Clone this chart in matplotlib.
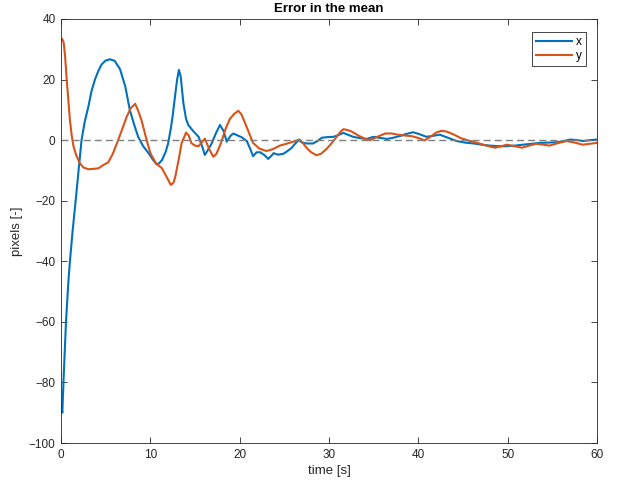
import numpy as np
import matplotlib
matplotlib.use("Agg")
import matplotlib.pyplot as plt

# mean error of the tracked points, x and y components
t_x = [0, 0.15, 0.3, 0.56, 0.82, 1.0, 1.3, 1.64, 2.0, 2.3, 2.65, 3.06, 3.4, 3.8,
       4.2, 4.55, 5.0, 5.5, 6.0, 6.6, 7.2, 7.7, 8.2, 8.65, 9.2, 9.8, 10.3, 10.7,
       11.0, 11.3, 11.7, 12.0, 12.3, 12.5, 12.76, 13.0, 13.2, 13.4, 13.7, 14.0,
       14.25, 14.8, 15.4, 15.8, 16.1, 16.5, 16.9, 17.3, 17.8, 18.2, 18.55, 19.0,
       19.3, 19.8, 20.2, 20.8, 21.2, 21.5, 21.9, 22.3, 22.8, 23.2, 23.6, 23.8,
       24.3, 24.9, 25.4, 25.8, 26.2, 26.6, 27.0, 27.5, 28.2, 28.7, 29.2, 29.8,
       30.5, 31.0, 31.6, 32.1, 32.7, 33.4, 34.2, 35.0, 35.8, 36.5, 37.2, 38.0,
       38.6, 39.4, 40.1, 40.9, 41.6, 42.4, 43.3, 44.3, 45.2, 46.2, 47.1, 48.0,
       49.0, 49.9, 50.8, 51.7, 52.7, 53.6, 54.6, 55.5, 56.3, 57.0, 57.8, 58.5,
       59.2, 60]
err_x = [-87, -90, -78, -60, -47, -40, -30, -20, -9, 0, 6, 11, 16, 20,
         23, 25, 26.3, 26.7, 26.2, 23.5, 17.7, 10, 5, 1, -2, -4.3, -6.5, -8,
         -7.6, -6.6, -4, -1, 4, 8, 14.4, 20, 23.2, 21, 12.2, 7,
         5, 3, 1.1, -2, -4.9, -3, -0.9, 2, 5, 3, -0.5, 1.5,
         2.2, 1.5, 1, -0.3, -3, -5.3, -4, -4, -5, -6.2, -5, -4.3,
         -4.8, -4.5, -3.5, -2.6, -1.2, 0, -0.8, -1.1, -1.1, -0.3, 0.8, 1.0,
         1.1, 1.6, 2.4, 1.8, 1.1, 0.7, 0.4, 1.1, 0.7, 0.4, 0.8, 1.4,
         2.0, 2.6, 2.0, 1.1, 1.4, 1.8, 0.8, -0.3, -0.8, -1.1, -1.5, -1.8,
         -2.0, -2.0, -1.8, -1.5, -1.2, -0.9, -0.8, -0.7, -0.3, 0.2, 0, -0.3,
         0, 0.2]

t_y = [0, 0.15, 0.3, 0.45, 0.64, 0.8, 1.0, 1.2, 1.4, 1.7, 2.1, 2.5, 3.05, 3.6,
       4.2, 4.7, 5.3, 5.8, 6.4, 6.9, 7.35, 7.8, 8.3, 8.6, 9.0, 9.5, 10.0, 10.6,
       11.3, 11.8, 12.3, 12.6, 12.8, 13.2, 13.5, 14.0, 14.3, 14.6, 15.0, 15.4,
       15.8, 16.1, 16.6, 17.05, 17.4, 17.9, 18.4, 18.9, 19.4, 19.85, 20.2, 20.6,
       21.1, 21.5, 22.2, 23.0, 23.7, 24.5, 25.1, 25.8, 26.7, 27.1, 27.5, 28.0,
       28.6, 29.1, 29.7, 30.3, 30.9, 31.3, 31.6, 32.0, 32.5, 33.3, 34.0, 34.6,
       35.4, 36.3, 37.0, 37.7, 38.6, 39.3, 40.0, 40.7, 41.4, 42.0, 42.6, 43.2,
       43.7, 44.2, 44.8, 45.7, 46.6, 47.6, 48.6, 49.3, 49.9, 50.8, 51.6, 52.4,
       53.2, 54.0, 54.7, 55.6, 56.6, 57.5, 58.4, 59.2, 60]
err_y = [33.5, 33.3, 32.2, 28, 20, 14, 6.7, 1.5, -2, -5, -7.6, -9, -9.6, -9.5,
         -9.3, -8.3, -7.3, -4.5, 0, 4, 7.7, 10.5, 12, 10, 6.7, 1, -4.3, -7.5,
         -9.3, -12, -14.8, -14, -12, -6, -1, 2.5, 1.5, -1, -1.8, -2,
         -0.6, 0.5, -3, -5.5, -4.5, -1, 3.5, 7.0, 8.7, 9.7, 8.5, 5.7,
         2, -0.9, -2.8, -3.6, -3.0, -1.8, -1.3, -0.7, 0.2, -1, -2.6, -4,
         -5, -4.5, -3, -1, 1.3, 2.8, 3.6, 3.4, 2.9, 1.5, 0.5, 0,
         1.1, 2.2, 2.2, 1.8, 1.5, 1.3, 0.7, -0.1, 1.2, 2.5, 3.1, 2.8,
         2.2, 1.5, 0.6, -0.2, -0.9, -1.8, -2.5, -2.0, -1.5, -2.0, -2.5, -1.8,
         -1.2, -1.5, -1.8, -1.0, -0.3, -0.8, -1.5, -1.2, -0.9]

plt.rcParams["font.family"] = ["Liberation Sans", "DejaVu Sans"]
ink = "#262626"

fig = plt.figure(figsize=(6.18, 4.87), dpi=100)
ax = fig.add_axes([0.0987, 0.0903, 0.8673, 0.8707])

ax.plot(t_x, err_x, color="#0072BD", lw=1.5, label="x")
ax.plot(t_y, err_y, color="#D95319", lw=1.5, label="y")
ax.axhline(0, color="#7f7f7f", lw=1.0, ls=(0, (5, 3)))

ax.set_xlim(0, 60)
ax.set_ylim(-100, 40)
ax.set_xticks(np.arange(0, 61, 10))
ax.set_yticks(np.arange(-100, 41, 20))
ax.tick_params(direction="in", length=4, width=0.6, colors=ink,
               labelsize=8.5, top=True, right=True, pad=4)
for s in ax.spines.values():
    s.set_color(ink)
    s.set_linewidth(0.6)

ax.set_xlabel("time [s]", fontsize=9.5, color=ink, labelpad=3)
ax.set_ylabel("pixels [-]", fontsize=9.5, color=ink, labelpad=4)
ax.set_title("Error in the mean", fontsize=9.5, fontweight="bold",
             color="black", pad=5)

leg = ax.legend(loc="upper right", bbox_to_anchor=(0.9795, 0.969),
                borderaxespad=0, fontsize=8.5,
                fancybox=False, framealpha=1, edgecolor=ink,
                handlelength=3.1, handletextpad=0.3, borderpad=0.35,
                labelspacing=0.15)
leg.get_frame().set_linewidth(0.6)

fig.savefig("out.png", dpi=100)
